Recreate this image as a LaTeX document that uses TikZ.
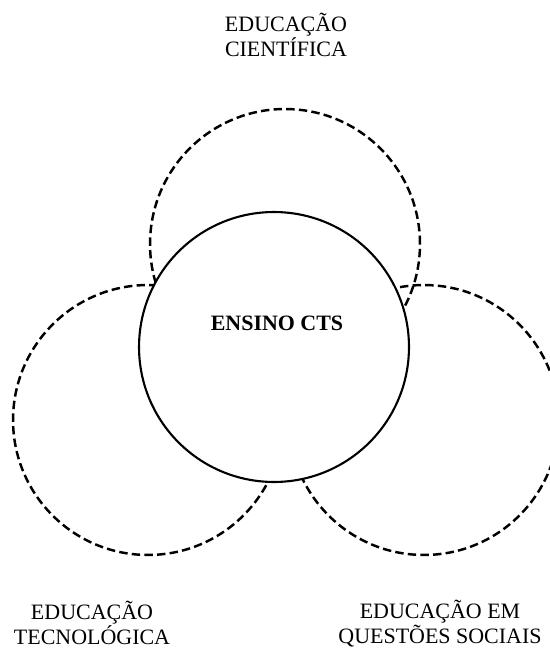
\documentclass[tikz,border=0pt]{standalone}
\usepackage{fontspec}
\setmainfont{Liberation Serif}
\usepackage{tikz}
\usetikzlibrary{shapes,positioning}
\tikzset{area/.style={circle,draw,dash pattern=on 4.8pt off 2.4pt,line width=1.4pt,minimum size=5.4cm,inner sep=0pt}}
\tikzset{core/.style={circle,draw,fill=white,line width=1.2pt,minimum size=5.4cm,inner sep=0pt}}
\tikzset{lbl/.style={align=center,inner sep=0pt,font=\fontsize{12.5}{14.3}\selectfont}}

\begin{document}
\begin{tikzpicture}[x=0.02cm,y=-0.02cm]
        \useasboundingbox (0,0) rectangle (549,651);

        \node[area] (cient) at (285,244) {};
        \node[area] (tec) at (148,420) {};
        \node[area] (soc) at (424,420) {};
        \node[core] (cts) at (274,347) {};

        \node[lbl,font=\fontsize{12.5}{14.3}\selectfont\bfseries] (ctstxt) at (277,323) {ENSINO CTS};
        \node[lbl] (cienttxt) at (286,35) {EDUCAÇÃO\\CIENTÍFICA};
        \node[lbl] (tectxt) at (92,623) {EDUCAÇÃO\\TECNOLÓGICA};
        \node[lbl] (soctxt) at (440,624) {EDUCAÇÃO EM\\QUESTÕES SOCIAIS};
    \end{tikzpicture}
\end{document}
